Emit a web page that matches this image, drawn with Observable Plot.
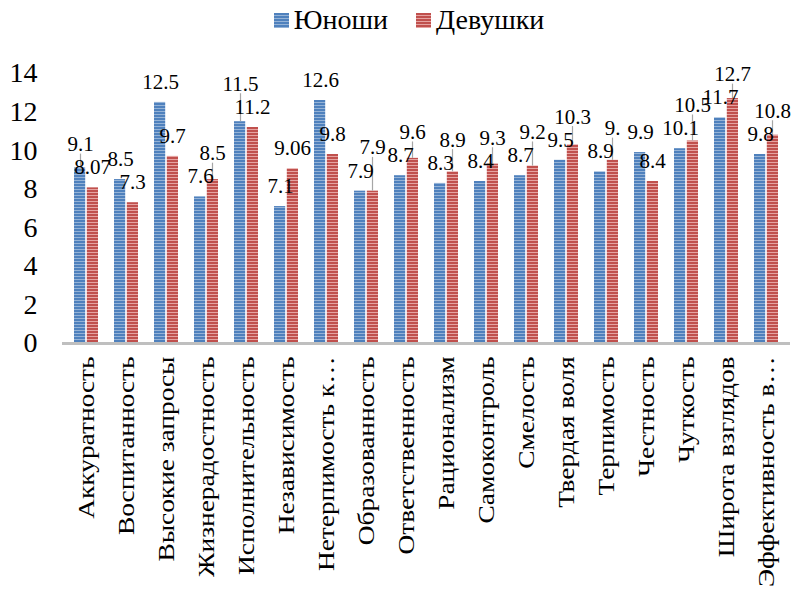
<!DOCTYPE html>
<html>
<head>
<meta charset="utf-8">
<script src="https://cdn.jsdelivr.net/npm/d3@7"></script>
<script src="https://cdn.jsdelivr.net/npm/@observablehq/plot@0.6"></script>
<style>
  body { margin: 0; background: white; font-family: "Liberation Serif", "Times New Roman", serif; }
  #legend { height: 40px; display: flex; justify-content: center; align-items: center; padding-left: 20px; font-size: 28px; color: #000; }
  .item { display: flex; align-items: center; margin: 0 14px; }
  .sw { width: 15px; height: 15px; margin-right: 5px; }
  .sw.b { background: repeating-linear-gradient(to bottom, #4f81bd 0 2px, #95b3d7 2px 3px); }
  .sw.r { background: repeating-linear-gradient(to bottom, #c0504d 0 2px, #e6a3a1 2px 3px); }
  #chart svg, #chart svg text { font-family: "Liberation Serif", "Times New Roman", serif !important; }
</style>
</head>
<body>
<div id="legend"></div>
<div id="chart"></div>
<script>
const categories = ["Аккуратность","Воспитанность","Высокие запросы","Жизнерадостность","Исполнительность","Независимость","Нетерпимость к…","Образованность","Ответственность","Рационализм","Самоконтроль","Смелость","Твердая воля","Терпимость","Честность","Чуткость","Широта взглядов","Эффективность в…"];
const seriesNames = ["Юноши","Девушки"];
const boys  = [9.1, 8.5, 12.5, 7.6, 11.5, 7.1, 12.6, 7.9, 8.7, 8.3, 8.4, 8.7, 9.5, 8.9, 9.9, 10.1, 11.7, 9.8];
const girls = [8.07, 7.3, 9.7, 8.5, 11.2, 9.06, 9.8, 7.9, 9.6, 8.9, 9.3, 9.2, 10.3, 9.5, 8.4, 10.5, 12.7, 10.8];
const boyLabels  = ["9.1","8.5","12.5","7.6","11.5","7.1","12.6","7.9","8.7","8.3","8.4","8.7","9.5","8.9","9.9","10.1","11.7","9.8"];
const girlLabels = ["8.07","7.3","9.7","8.5","11.2","9.06","9.8","7.9","9.6","8.9","9.3","9.2","10.3","9.","8.4","10.5","12.7","10.8"];
const yTicks = [0,2,4,6,8,10,12,14];

// label placement (in value units): natural spot above each bar, staggered when the pair would collide
const GAP = 1.05, SEP = 1.2;
const data = categories.map((c, i) => {
  const b = boys[i], g = girls[i];
  let lb = b + GAP, lg = g + GAP;
  let liftB = false, liftG = false;
  if (Math.abs(lb - lg) < SEP) {
    if (b > g + 0.2) { lb = lg + SEP; liftB = true; }
    else { lg = lb + SEP; liftG = true; }
  }
  return {c, b, g, bl: boyLabels[i], gl: girlLabels[i], lb, lg, liftB, liftG};
});

// legend
const lgd = document.getElementById("legend");
seriesNames.forEach((n, i) => {
  const it = document.createElement("div"); it.className = "item";
  const sw = document.createElement("div"); sw.className = "sw " + (i === 0 ? "b" : "r");
  const t = document.createElement("span"); t.textContent = n;
  it.append(sw, t); lgd.append(it);
});

const serif = "Liberation Serif";
const chart = Plot.plot({
  width: 798, height: 553,
  marginTop: 33, marginBottom: 250, marginLeft: 62, marginRight: 8,
  style: {fontFamily: serif, background: "white", color: "#000", overflow: "visible"},
  x: {domain: categories, paddingInner: 0.4, paddingOuter: 0.2, label: null},
  y: {domain: [0, 14], label: null},
  marks: [
    Plot.axisY({ticks: yTicks, tickSize: 0, tickPadding: 25, fontSize: 28, fontFamily: serif, label: null}),
    Plot.axisX({tickSize: 0, tickRotate: -90, tickPadding: 13, fontSize: 24, fontFamily: serif, label: null}),
    Plot.barY(data, {x: "c", y: "b", fill: "url(#pb)", insetRight: 12.8}),
    Plot.barY(data, {x: "c", y: "g", fill: "url(#pr)", insetLeft: 12.8}),
    Plot.ruleY([0], {stroke: "#bfbfbf", strokeWidth: 3}),
    Plot.ruleX(data.filter(d => d.liftB), {x: "c", y1: "b", y2: d => d.lb - 0.5, dx: -6, stroke: "#a6a6a6", strokeWidth: 1.2}),
    Plot.ruleX(data.filter(d => d.liftG), {x: "c", y1: "g", y2: d => d.lg - 0.5, dx: 6, stroke: "#a6a6a6", strokeWidth: 1.2}),
    Plot.text(data, {x: "c", y: "lb", text: "bl", dx: -6, fontSize: 21, fontFamily: serif, fill: "#000"}),
    Plot.text(data, {x: "c", y: "lg", text: "gl", dx: 6, fontSize: 21, fontFamily: serif, fill: "#000"})
  ]
});

// stretch the rotated category labels along their length, as in the reference
chart.querySelectorAll('[aria-label="x-axis tick label"] text').forEach(t => {
  const tr = t.getAttribute("transform") || "";
  t.setAttribute("transform", tr + " scale(1.14,1)");
});

const ns = "http://www.w3.org/2000/svg";
const defs = document.createElementNS(ns, "defs");
function pattern(id, dark, light) {
  const p = document.createElementNS(ns, "pattern");
  p.setAttribute("id", id); p.setAttribute("patternUnits", "userSpaceOnUse");
  p.setAttribute("width", "4"); p.setAttribute("height", "3");
  const r1 = document.createElementNS(ns, "rect");
  r1.setAttribute("width", "4"); r1.setAttribute("height", "3"); r1.setAttribute("fill", dark);
  const r2 = document.createElementNS(ns, "rect");
  r2.setAttribute("y", "2"); r2.setAttribute("width", "4"); r2.setAttribute("height", "1"); r2.setAttribute("fill", light);
  p.append(r1, r2); defs.append(p);
}
pattern("pb", "#4f81bd", "#95b3d7");
pattern("pr", "#c0504d", "#e6a3a1");
chart.insertBefore(defs, chart.firstChild);
document.getElementById("chart").append(chart);
</script>
</body>
</html>
